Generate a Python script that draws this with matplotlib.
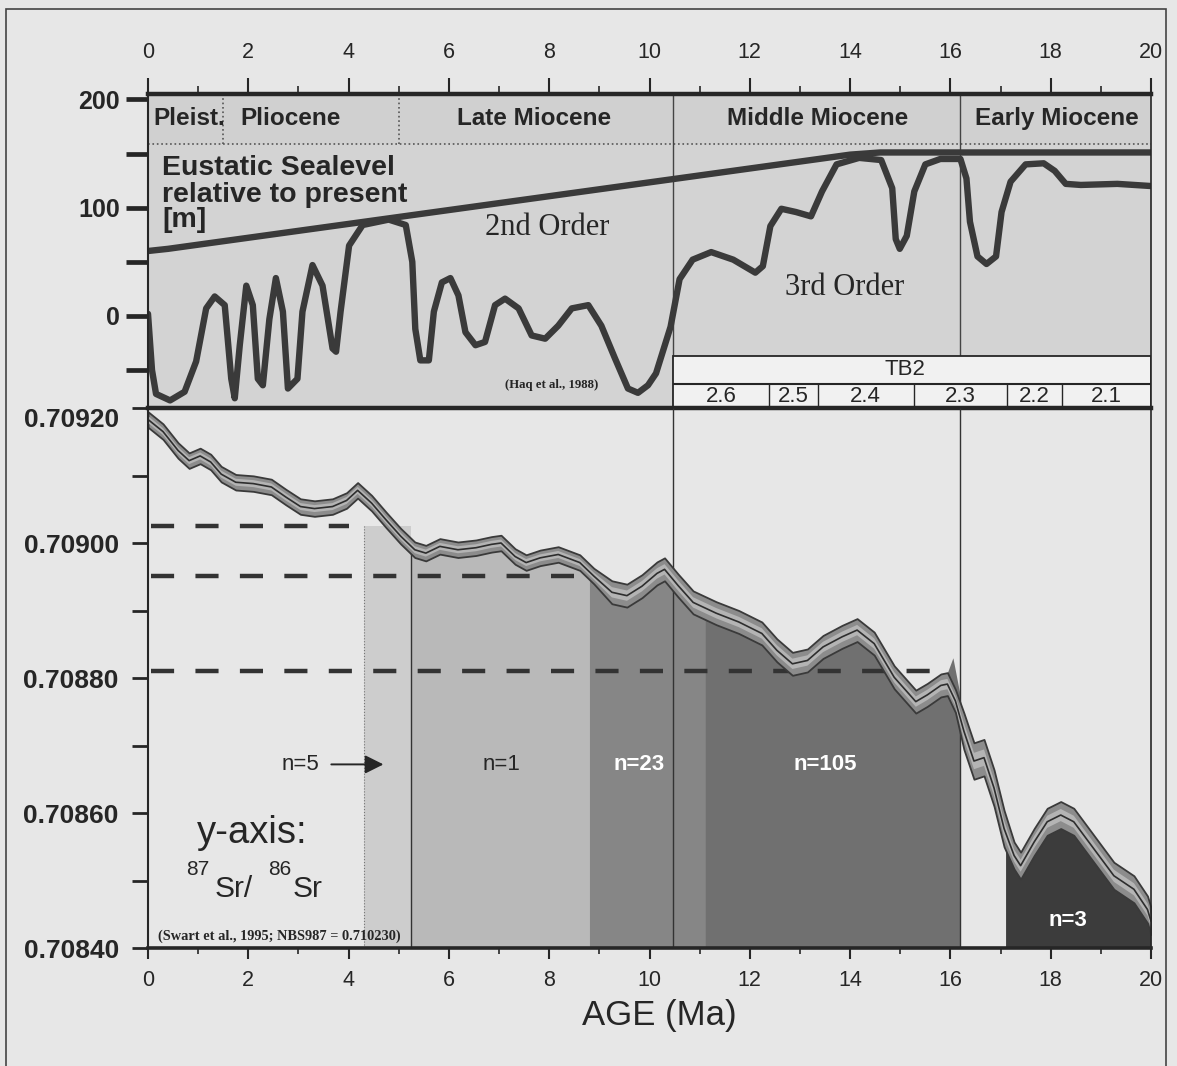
import numpy as np
import matplotlib
matplotlib.use("Agg")
import matplotlib.pyplot as plt
from matplotlib.patches import Rectangle

# ---------------- data ----------------
# 2nd-order eustatic sea level (m) vs age (Ma)
sl2_age = [0.0, 0.4, 14.0, 14.6, 20.0]
sl2_m = [60, 62, 149, 151, 151]

# 3rd-order eustatic sea level (Haq et al., 1988)
sl3_age = [0.0, 0.08, 0.16, 0.44, 0.73, 0.96, 1.16, 1.33, 1.53, 1.66, 1.73, 1.83,
           1.96, 2.09, 2.19, 2.29, 2.42, 2.55, 2.69, 2.79, 2.98, 3.08, 3.28, 3.48,
           3.68, 3.75, 3.84, 4.01, 4.28, 4.8, 5.14, 5.27, 5.33, 5.43, 5.6, 5.7,
           5.86, 6.03, 6.19, 6.33, 6.53, 6.72, 6.92, 7.12, 7.39, 7.65, 7.92, 8.18,
           8.45, 8.78, 9.04, 9.31, 9.57, 9.77, 9.97, 10.13, 10.42, 10.6, 10.86, 11.23,
           11.67, 12.11, 12.26, 12.41, 12.63, 12.92, 13.22, 13.44, 13.73, 14.18, 14.62,
           14.84, 14.91, 14.99, 15.13, 15.28, 15.5, 15.8, 16.2, 16.32, 16.39, 16.54,
           16.72, 16.91, 17.02, 17.2, 17.5, 17.86, 18.08, 18.3, 18.6, 19.33, 20.0]
sl3_m = [2, -50, -72, -78, -70, -42, 7, 18, 10, -58, -76, -27,
         28, 10, -58, -64, -3, 35, 4, -67, -58, 4, 47, 28,
         -30, -33, 4, 65, 84, 89, 84, 50, -12, -41, -41, 4,
         31, 35, 19, -15, -27, -24, 10, 16, 7, -18, -21, -9,
         7, 10, -9, -39, -67, -71, -64, -53, -10, 34, 52, 59,
         52, 40, 46, 83, 99, 96, 92, 115, 140, 146, 144,
         118, 71, 62, 74, 115, 140, 145, 145, 127, 87, 55,
         48, 55, 96, 124, 140, 141, 134, 122, 121, 122, 120]

# 87Sr/86Sr seawater curve (Swart et al., 1995) and its half-width
sr_age = [0.0, 0.3, 0.6, 0.82, 1.04, 1.25, 1.46, 1.75, 2.1, 2.46, 2.75, 3.04, 3.32,
          3.68, 3.96, 4.18, 4.46, 4.75, 5.04, 5.32, 5.54, 5.82, 6.18, 6.54, 6.85,
          7.04, 7.32, 7.54, 7.82, 8.18, 8.61, 8.89, 9.25, 9.55, 9.85, 10.15, 10.3,
          10.57, 10.87, 11.33, 11.78, 12.24, 12.54, 12.85, 13.15, 13.46, 13.84, 14.14,
          14.48, 14.88, 15.31, 15.54, 15.81, 15.94, 16.1, 16.27, 16.47, 16.67, 16.87,
          17.07, 17.27, 17.4, 17.67, 17.93, 18.2, 18.46, 18.86, 19.26, 19.66, 19.93, 20.0]
sr_ratio = [0.709183, 0.709165, 0.709137, 0.709122, 0.709129, 0.709120, 0.709102,
            0.709090, 0.709088, 0.709083, 0.709068, 0.709054, 0.709051, 0.709054,
            0.709063, 0.709078, 0.709059, 0.709034, 0.709010, 0.708990, 0.708985,
            0.708995, 0.708990, 0.708993, 0.708998, 0.709000, 0.708980, 0.708971,
            0.708978, 0.708983, 0.708971, 0.708951, 0.708927, 0.708922, 0.708936,
            0.708955, 0.708961, 0.708937, 0.708912, 0.708896, 0.708883, 0.708866,
            0.708841, 0.708821, 0.708826, 0.708846, 0.708861, 0.708871, 0.708851,
            0.708801, 0.708765, 0.708775, 0.708789, 0.708791, 0.708766, 0.708721,
            0.708677, 0.708682, 0.708637, 0.708577, 0.708537, 0.708522, 0.708557,
            0.708587, 0.708597, 0.708587, 0.708547, 0.708507, 0.708487, 0.708457,
            0.708440]
sr_err = [0.0000115] * 32 + [0.000017] * 23 + [0.000027] * 5 + [0.00002] * 11

# geological time scale
epoch_names = ["Pleist.", "Pliocene", "Late Miocene", "Middle Miocene", "Early Miocene"]
epoch_bounds = [0.0, 1.5, 5.0, 10.46, 16.2, 20.0]
tb2_names = ["2.6", "2.5", "2.4", "2.3", "2.2", "2.1"]
tb2_bounds = [10.46, 12.39, 13.35, 15.27, 17.12, 18.22, 20.0]

# sample-age regions below the Sr curve
region_bounds = [4.3, 5.25, 8.8, 11.1, 16.2, 17.1, 20.0]
region_labels = ["", "n=1", "n=23", "n=105", "", "n=3"]
spike_age = [15.85, 16.05, 16.18]
spike_top = [0.708790, 0.708830, 0.708780]

dashed_levels = [0.709025, 0.708951, 0.708810]
dashed_ends = [4.0, 8.5, 15.6]

sea_ticks = [-50, 0, 50, 100, 150, 200]
sea_ticklabels = ["", "0", "", "100", "", "200"]
sr_ticks = [0.70840, 0.70850, 0.70860, 0.70870, 0.70880, 0.70890, 0.70900, 0.70910, 0.70920]
sr_ticklabels = ["0.70840", "", "0.70860", "", "0.70880", "", "0.70900", "", "0.70920"]

# ---------------- figure ----------------
W_PX, H_PX = 1177, 1066
PAGE = "#e7e7e7"
fig = plt.figure(figsize=(W_PX / 100, H_PX / 100), dpi=100, facecolor=PAGE)
plt.rcParams["font.family"] = ["Liberation Sans", "DejaVu Sans"]

L = 148 / W_PX
R = 1151 / W_PX
sea_top = 1 - 94 / H_PX
sea_bot = 1 - 408 / H_PX
sr_bot = 1 - 948 / H_PX

ax = fig.add_axes([L, sea_bot, R - L, sea_top - sea_bot])
ax2 = fig.add_axes([L, sr_bot, R - L, sea_bot - sr_bot])

INK = "#262626"
SEA_LO, SEA_HI = -85, 205

# ----- sea-level panel -----
ax.set_facecolor("#d3d3d3")
ax.set_xlim(0, 20)
ax.set_ylim(SEA_LO, SEA_HI)
band_lo = 159
ax.add_patch(Rectangle((0, band_lo), 20, SEA_HI - band_lo, facecolor="#d0d0d0",
                       edgecolor="none", zorder=0))
ax.hlines(band_lo, 0, 20, colors="#555555", linestyles=":", lw=1.2, zorder=1)
for b in epoch_bounds[1:3]:
    ax.vlines(b, band_lo, SEA_HI, colors="#555555", linestyles=":", lw=1.2, zorder=1)
ax.vlines(epoch_bounds[3], SEA_LO, SEA_HI, colors="#444444", lw=1.0, zorder=1)
ax.vlines(epoch_bounds[4], -37, SEA_HI, colors="#444444", lw=1.0, zorder=1)
epoch_x = [0.1, 2.85, 7.7, 13.35, 18.12]
for i, name in enumerate(epoch_names):
    ax.text(epoch_x[i], 182, name, ha="left" if i == 0 else "center", va="center",
            fontsize=17.5, fontweight="bold", color=INK, zorder=2)

# TB2 box
ax.add_patch(Rectangle((tb2_bounds[0], SEA_LO), tb2_bounds[-1] - tb2_bounds[0],
                       -37 - SEA_LO, facecolor="#f1f1f1", edgecolor=INK, lw=1.3,
                       zorder=1))
ax.hlines(-63, tb2_bounds[0], tb2_bounds[-1], colors=INK, lw=1.5, zorder=2)
for b in tb2_bounds[1:-1]:
    ax.vlines(b, SEA_LO, -63, colors=INK, lw=1.0, zorder=2)
ax.text(15.1, -49, "TB2", ha="center", va="center", fontsize=16, color=INK, zorder=2)
for i, name in enumerate(tb2_names):
    ax.text((tb2_bounds[i] + tb2_bounds[i + 1]) / 2, -74, name, ha="center",
            va="center", fontsize=16, color=INK, zorder=2)

ax.plot(sl2_age, sl2_m, color="#3a3a3a", lw=4.6, solid_capstyle="butt",
        solid_joinstyle="round", zorder=3)
ax.plot(sl3_age, sl3_m, color="#3a3a3a", lw=4.6, solid_capstyle="round",
        solid_joinstyle="round", zorder=3)

for yy, s in zip([137, 112, 89], ["Eustatic Sealevel", "relative to present", "[m]"]):
    ax.text(0.28, yy, s, ha="left", va="center", fontsize=20.5, fontweight="bold",
            color=INK, zorder=4)
ax.text(7.95, 82, "2nd Order", ha="center", va="center", fontsize=22,
        family="Liberation Serif", color=INK, zorder=4)
ax.text(13.9, 26, "3rd Order", ha="center", va="center", fontsize=22,
        family="Liberation Serif", color=INK, zorder=4)
ax.text(8.05, -64, "(Haq et al., 1988)", ha="center", va="center", fontsize=9.2,
        fontweight="bold", family="Liberation Serif", color=INK, zorder=4)

ax.spines["top"].set_linewidth(3.2)
ax.spines["bottom"].set_linewidth(3.2)
ax.spines["left"].set_linewidth(1.5)
ax.spines["right"].set_linewidth(1.2)
for s in ax.spines.values():
    s.set_color(INK)
    s.set_zorder(6)
ax.xaxis.tick_top()
ax.set_xticks(np.arange(0, 21, 2))
ax.set_xticks(np.arange(1, 20, 2), minor=True)
ax.set_xticklabels([str(v) for v in range(0, 21, 2)])
ax.tick_params(axis="x", which="major", direction="out", length=11.5, width=1.5,
               labelsize=15.5, pad=10.5, colors=INK)
ax.tick_params(axis="x", which="minor", direction="out", length=5.5, width=1.2, colors=INK)
ax.set_yticks(sea_ticks)
ax.set_yticklabels(sea_ticklabels)
ax.tick_params(axis="y", which="major", direction="out", length=16, width=3.4,
               labelsize=18, pad=4, colors=INK)
for lab in ax.get_yticklabels():
    lab.set_fontweight("bold")

# ----- Sr panel -----
ax2.set_facecolor("none")
ax2.set_xlim(0, 20)
ax2.set_ylim(0.70840, 0.70920)
sr_age_a = np.array(sr_age)
sr_a = np.array(sr_ratio)
err_a = np.array(sr_err)
bottom = 0.70840

region_colors = ["#cdcdcd", "#b9b9b9", "#868686", "#707070", None, "#3c3c3c"]
for i in range(len(region_bounds) - 1):
    a, b = region_bounds[i], region_bounds[i + 1]
    c = region_colors[i]
    if c is None:
        continue
    if i == 0:
        ax2.add_patch(Rectangle((a, bottom), b - a, dashed_levels[0] - bottom,
                                facecolor=c, edgecolor="none", zorder=1))
        ax2.vlines(a, bottom, dashed_levels[0], colors="#777777", lw=0.8,
                   linestyles=":", zorder=1)
        continue
    xs = np.concatenate([[a], sr_age_a[(sr_age_a > a) & (sr_age_a < b)], [b]])
    top = np.interp(xs, sr_age_a, sr_a)
    if i == 3:
        xs = np.union1d(xs, spike_age)
        top = np.maximum(np.interp(xs, sr_age_a, sr_a),
                         np.interp(xs, spike_age, spike_top, left=0, right=0))
    ax2.fill_between(xs, bottom, top, color=c, lw=0, zorder=1)
ax2.vlines(region_bounds[1], bottom, np.interp(region_bounds[1], sr_age_a, sr_a),
           colors="#333333", lw=1.0, zorder=1.5)

for lvl, end in zip(dashed_levels, dashed_ends):
    ax2.hlines(lvl, 0.05, end, colors="#333333", lw=3.2, linestyles=(0, (5.2, 4.8)),
               zorder=2)

ax2.vlines(epoch_bounds[3], bottom, 0.70920, colors="#333333", lw=1.0, zorder=2)
ax2.vlines(epoch_bounds[4], bottom, 0.70920, colors="#333333", lw=1.0, zorder=2)

# Sr envelope
ax2.fill_between(sr_age_a, sr_a - err_a, sr_a + err_a, facecolor="#8c8c8c",
                 edgecolor="#3a3a3a", lw=1.3, zorder=3)
ax2.fill_between(sr_age_a, sr_a - 0.45 * err_a, sr_a + 0.45 * err_a,
                 facecolor="#b4b4b4", lw=0, zorder=3.1)
ax2.plot(sr_age_a, sr_a, color="#2e2e2e", lw=1.2, zorder=3.2)

# labels in the Sr panel
label_x = [None, 7.05, 9.8, 13.5, None, 18.35]
label_y = [None, 0.708672, 0.708672, 0.708672, None, 0.708441]
for i, lab in enumerate(region_labels):
    if not lab:
        continue
    white = i in (2, 3, 5)
    ax2.text(label_x[i], label_y[i], lab, ha="center", va="center", fontsize=16,
             fontweight="bold" if white else "normal",
             color="white" if white else INK, zorder=5)
ax2.text(3.03, 0.708672, "n=5", ha="center", va="center", fontsize=16, color=INK, zorder=5)
ax2.annotate("", xy=(4.75, 0.708672), xytext=(3.6, 0.708672),
             arrowprops=dict(arrowstyle="-|>", color=INK, lw=1.4, mutation_scale=28),
             zorder=5)
ax2.text(2.08, 0.708571, "y-axis:", ha="center", va="center", fontsize=27.5,
         color=INK, zorder=5)
ax2.text(0.99, 0.708516, "87", ha="center", va="center", fontsize=15, color=INK, zorder=5)
ax2.text(1.7, 0.708488, "Sr/", ha="center", va="center", fontsize=21.5, color=INK, zorder=5)
ax2.text(2.63, 0.708516, "86", ha="center", va="center", fontsize=15, color=INK, zorder=5)
ax2.text(3.19, 0.708488, "Sr", ha="center", va="center", fontsize=21.5, color=INK, zorder=5)
ax2.text(2.62, 0.708418, "(Swart et al., 1995; NBS987 = 0.710230)", ha="center",
         va="center", fontsize=10.4, fontweight="bold", family="Liberation Serif",
         color=INK, zorder=5)

ax2.spines["top"].set_visible(False)
ax2.spines["bottom"].set_linewidth(2.6)
ax2.spines["left"].set_linewidth(1.5)
ax2.spines["right"].set_linewidth(1.2)
for s in ax2.spines.values():
    s.set_color(INK)
    s.set_zorder(6)
ax2.set_xticks(np.arange(0, 21, 2))
ax2.set_xticks(np.arange(1, 20, 2), minor=True)
ax2.set_xticklabels([str(v) for v in range(0, 21, 2)])
ax2.tick_params(axis="x", which="major", direction="out", length=8, width=1.5,
                labelsize=15.5, pad=8, colors=INK)
ax2.tick_params(axis="x", which="minor", direction="out", length=4.5, width=1.2, colors=INK)
ax2.set_yticks(sr_ticks)
ax2.set_yticklabels(sr_ticklabels)
ax2.tick_params(axis="y", which="major", direction="out", length=11.5, width=2.0,
                labelsize=19, pad=9.5, colors=INK)
ylabs = ax2.get_yticklabels()
for lab in ylabs:
    lab.set_fontweight("bold")
ylabs[-1].set_verticalalignment("top")
ax2.set_xlabel("AGE (Ma)", fontsize=25, color=INK, labelpad=3)
ax2.xaxis.set_label_coords(10.2 / 20, -0.0)
ax2.xaxis.label.set_verticalalignment("top")
ax2.xaxis.set_label_coords(10.2 / 20, -0.095)

# page frame
fig.add_artist(Rectangle((6 / W_PX, -0.05), 1160 / W_PX, 1.05 - 9 / H_PX,
                         transform=fig.transFigure, fill=False, edgecolor="#444444",
                         lw=1.2))

fig.savefig("out.png", dpi=100, facecolor=PAGE)
